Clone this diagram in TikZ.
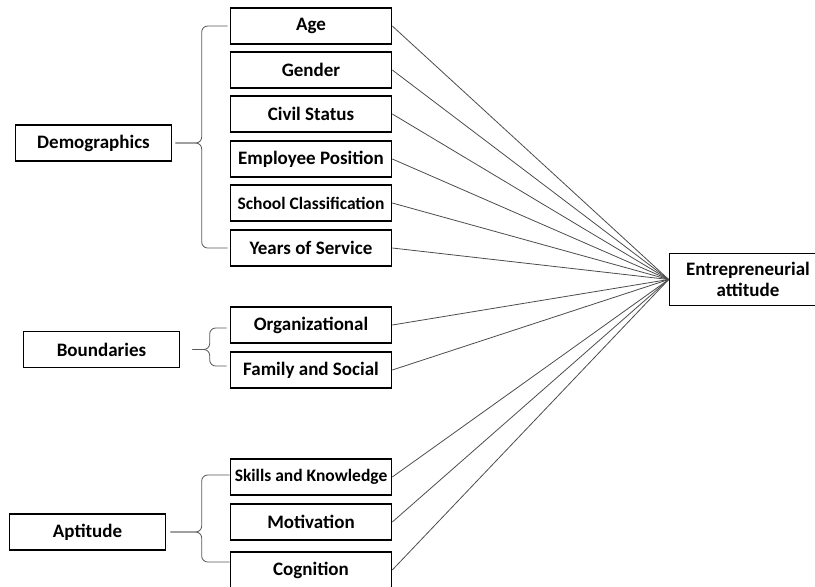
\documentclass[tikz,border=0pt]{standalone}
\usepackage{fontspec}
\setmainfont{Carlito}
\usetikzlibrary{positioning}

\tikzset{
  item/.style={draw, line width=1.6pt, minimum width=161pt, minimum height=36pt,
    inner sep=0pt, font=\fontsize{19}{21}\selectfont\bfseries},
  smallitem/.style={item, font=\fontsize{17.5}{19}\selectfont\bfseries},
  group/.style={item, minimum width=156pt},
  target/.style={item, minimum width=157pt, minimum height=52pt, align=center},
  link/.style={gray!60!black, line width=0.8pt},
  curly/.style={gray!70!black, line width=0.8pt, rounded corners=6pt}
}

\begin{document}
\begin{tikzpicture}[x=1pt, y=-1pt]
\useasboundingbox (0,0) rectangle (815,587);

% factors
\node[item] (age) at (311,26) {Age};
\node[item] (gender) at (311,70) {Gender};
\node[item] (civil) at (311,114) {Civil Status};
\node[item] (emp) at (311,159) {Employee Position};
\node[smallitem] (school) at (311,203) {School Classification};
\node[item] (yos) at (311,248) {Years of Service};

\node[item] (org) at (311,325) {Organizational};
\node[item] (fam) at (311,370) {Family and Social};

\node[smallitem] (skills) at (311,477) {Skills and Knowledge};
\node[item] (motiv) at (311,522) {Motivation};
\node[item] (cogn) at (311,570) {Cognition};

% groups
\node[group] (demo) at (93.5,143) {Demographics};
\node[group] (bound) at (101.5,349.5) {Boundaries};
\node[group] (apt) at (87.5,532) {Aptitude};

\node[target] (ent) at (748,279.5) {Entrepreneurial\\attitude};

% braces
\draw[curly] ([xshift=-2pt]age.west) -- ++(-26pt,0) |- ([xshift=3pt]demo.east);
\draw[curly] ([xshift=-2pt]yos.west) -- ++(-26pt,0) |- ([xshift=3pt]demo.east);
\draw[curly] ([xshift=-3pt,yshift=-3pt]org.west) -- ++(-17pt,0) |- ([xshift=12pt]bound.east);
\draw[curly] ([xshift=-3pt,yshift=4pt]fam.west) -- ++(-17pt,0) |- ([xshift=12pt]bound.east);
\draw[curly] ([yshift=2pt]skills.west) -- ++(-28pt,0) |- ([xshift=4pt]apt.east);
\draw[curly] ([yshift=8pt]cogn.west) -- ++(-28pt,0) |- ([xshift=4pt]apt.east);

% links to the outcome
\foreach \n in {age,gender,civil,emp,school,yos,org,fam,skills,motiv,cogn}
  \draw[link] (\n.east) -- (ent.west);
\end{tikzpicture}
\end{document}
